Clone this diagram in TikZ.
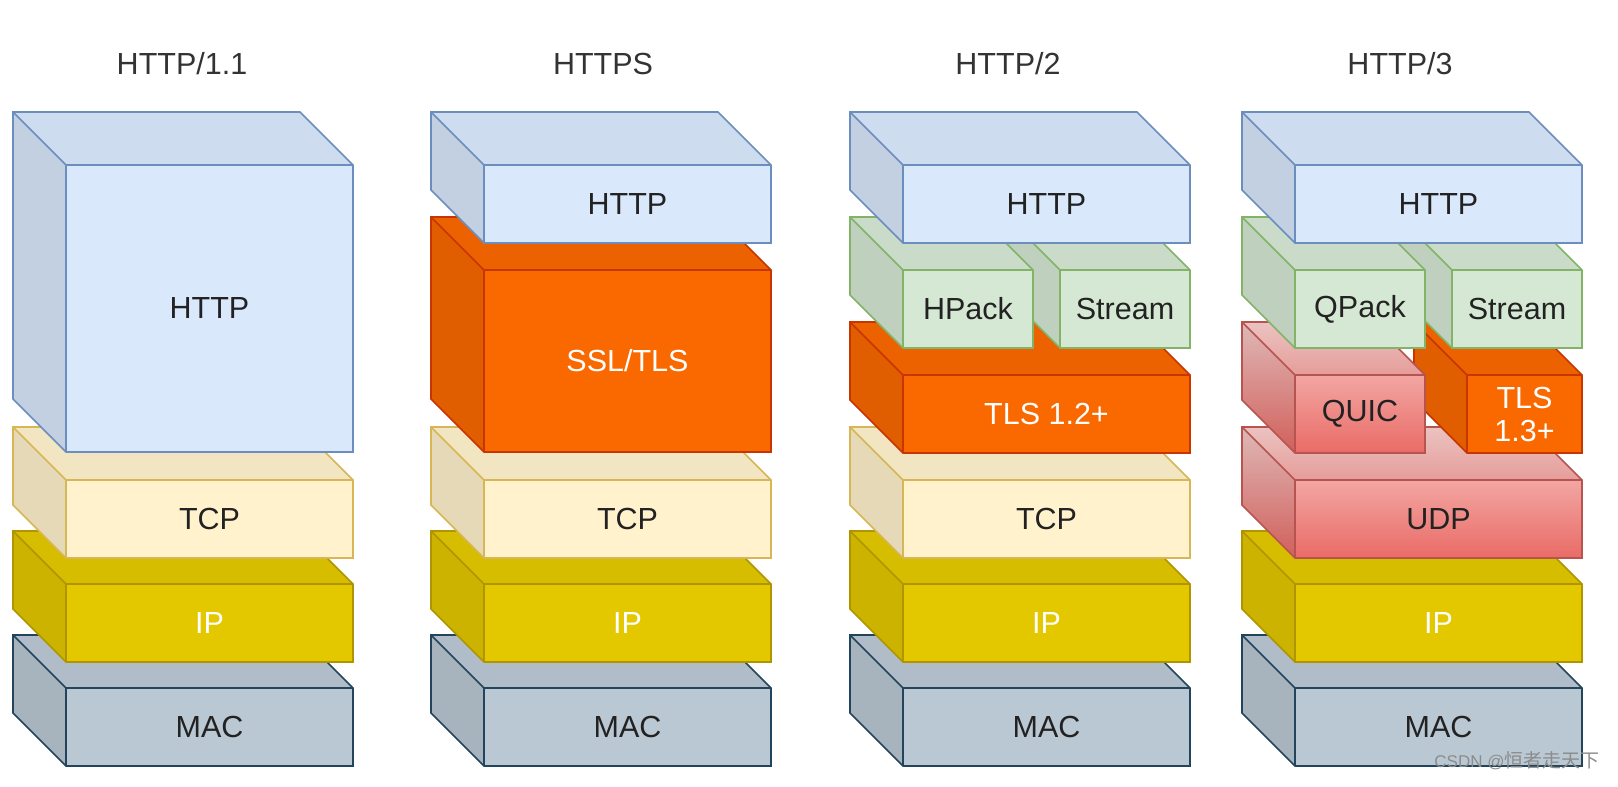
\documentclass[tikz,border=0pt]{standalone}
\usepackage{fontspec}
\setmainfont{Liberation Sans}
\newfontfamily\cjk{Noto Sans CJK SC}

\definecolor{httpF}{HTML}{DAE8FC}
\definecolor{httpL}{HTML}{6C8EBF}
\definecolor{tlsF}{HTML}{FA6800}
\definecolor{tlsL}{HTML}{C73500}
\definecolor{tcpF}{HTML}{FFF2CC}
\definecolor{tcpL}{HTML}{D6B656}
\definecolor{ipF}{HTML}{E3C800}
\definecolor{ipL}{HTML}{B09500}
\definecolor{macF}{HTML}{BAC8D3}
\definecolor{macL}{HTML}{23445D}
\definecolor{greenF}{HTML}{D5E8D4}
\definecolor{greenL}{HTML}{82B366}
\definecolor{redT}{HTML}{F8CECC}
\definecolor{redB}{HTML}{EA6B66}
\definecolor{redL}{HTML}{B85450}
\definecolor{txt}{HTML}{222222}

\newcommand{\cubedepth}{53}
% name, front x, front y, width, height, kind, text
\newcommand{\layerbox}[7]{%
  \path[#6 face] (#2-\cubedepth,#3-\cubedepth) -- ++(#4,0) -- ++(\cubedepth,\cubedepth)
    -- ++(0,#5) -- ++(-#4,0) -- ++(-\cubedepth,-\cubedepth) -- cycle;
  \fill[black,fill opacity=0.05] (#2-\cubedepth,#3-\cubedepth) -- ++(#4,0)
    -- ++(\cubedepth,\cubedepth) -- ++(-#4,0) -- cycle;
  \fill[black,fill opacity=0.1] (#2-\cubedepth,#3-\cubedepth) -- ++(\cubedepth,\cubedepth)
    -- ++(0,#5) -- ++(-\cubedepth,-\cubedepth) -- cycle;
  \draw[#6 edge] (#2-\cubedepth,#3-\cubedepth) -- ++(#4,0) -- ++(\cubedepth,\cubedepth)
    -- ++(0,#5) -- ++(-#4,0) -- ++(-\cubedepth,-\cubedepth) -- cycle
    (#2-\cubedepth,#3-\cubedepth) -- ++(\cubedepth,\cubedepth) -- ++(#4,0)
    (#2,#3) -- ++(0,#5);
  \node[#6 text] (#1) at (#2+#4/2,#3+#5/2) {#7};
}

\tikzset{
  boxtext/.style={font=\fontsize{15.25}{16.5}\selectfont, inner sep=0pt, align=center},
  edge/.style={line width=0.8pt, line join=miter},
  http face/.style={fill=httpF}, http edge/.style={edge, draw=httpL}, http text/.style={boxtext, text=txt},
  tls face/.style={fill=tlsF}, tls edge/.style={edge, draw=tlsL}, tls text/.style={boxtext, text=white},
  tcp face/.style={fill=tcpF}, tcp edge/.style={edge, draw=tcpL}, tcp text/.style={boxtext, text=txt},
  ip face/.style={fill=ipF}, ip edge/.style={edge, draw=ipL}, ip text/.style={boxtext, text=white},
  mac face/.style={fill=macF}, mac edge/.style={edge, draw=macL}, mac text/.style={boxtext, text=txt},
  green face/.style={fill=greenF}, green edge/.style={edge, draw=greenL}, green text/.style={boxtext, text=txt},
  red face/.style={top color=redT, bottom color=redB}, red edge/.style={edge, draw=redL}, red text/.style={boxtext, text=txt},
  title/.style={font=\fontsize{15.25}{16.5}\selectfont, text=black!80, anchor=base, inner sep=0pt}
}

\begin{document}
\begin{tikzpicture}[x=0.5pt, y=-0.5pt]
  \fill[white] (0,0) rectangle (1618,787);
  \useasboundingbox (0,0) rectangle (1618,787);

  \node[title] (title1) at (182,74) {HTTP/1.1};
  \node[title] (title2) at (603,74) {HTTPS};
  \node[title] (title3) at (1008,74) {HTTP/2};
  \node[title] (title4) at (1400,74) {HTTP/3};

  % HTTP/1.1
  \layerbox{mac1}{66}{688}{287}{78}{mac}{MAC}
  \layerbox{ip1}{66}{584}{287}{78}{ip}{IP}
  \layerbox{tcp1}{66}{480}{287}{78}{tcp}{TCP}
  \layerbox{http1}{66}{165}{287}{287}{http}{HTTP}

  % HTTPS
  \layerbox{mac2}{484}{688}{287}{78}{mac}{MAC}
  \layerbox{ip2}{484}{584}{287}{78}{ip}{IP}
  \layerbox{tcp2}{484}{480}{287}{78}{tcp}{TCP}
  \layerbox{ssl2}{484}{270}{287}{182}{tls}{SSL/TLS}
  \layerbox{http2}{484}{165}{287}{78}{http}{HTTP}

  % HTTP/2
  \layerbox{mac3}{903}{688}{287}{78}{mac}{MAC}
  \layerbox{ip3}{903}{584}{287}{78}{ip}{IP}
  \layerbox{tcp3}{903}{480}{287}{78}{tcp}{TCP}
  \layerbox{tls3}{903}{375}{287}{78}{tls}{TLS 1.2+}
  \layerbox{stream3}{1060}{270}{130}{78}{green}{Stream}
  \layerbox{hpack3}{903}{270}{130}{78}{green}{HPack}
  \layerbox{http3}{903}{165}{287}{78}{http}{HTTP}

  % HTTP/3
  \layerbox{mac4}{1295}{688}{287}{78}{mac}{MAC}
  \layerbox{ip4}{1295}{584}{287}{78}{ip}{IP}
  \layerbox{udp4}{1295}{480}{287}{78}{red}{UDP}
  \layerbox{tls4}{1467}{375}{115}{78}{tls}{TLS\\1.3+}
  \layerbox{quic4}{1295}{375}{130}{78}{red}{QUIC}
  \layerbox{stream4}{1452}{270}{130}{78}{green}{Stream}
  \layerbox{qpack4}{1295}{270}{130}{78}{green}{QPack}
  \layerbox{http4}{1295}{165}{287}{78}{http}{HTTP}

  \node[text=black!45, anchor=base east, inner sep=0pt] (mark) at (1600,767)
    {\fontsize{8.5}{10}\selectfont CSDN @\cjk\fontsize{9.5}{11}\selectfont 恒者走天下};
\end{tikzpicture}
\end{document}
